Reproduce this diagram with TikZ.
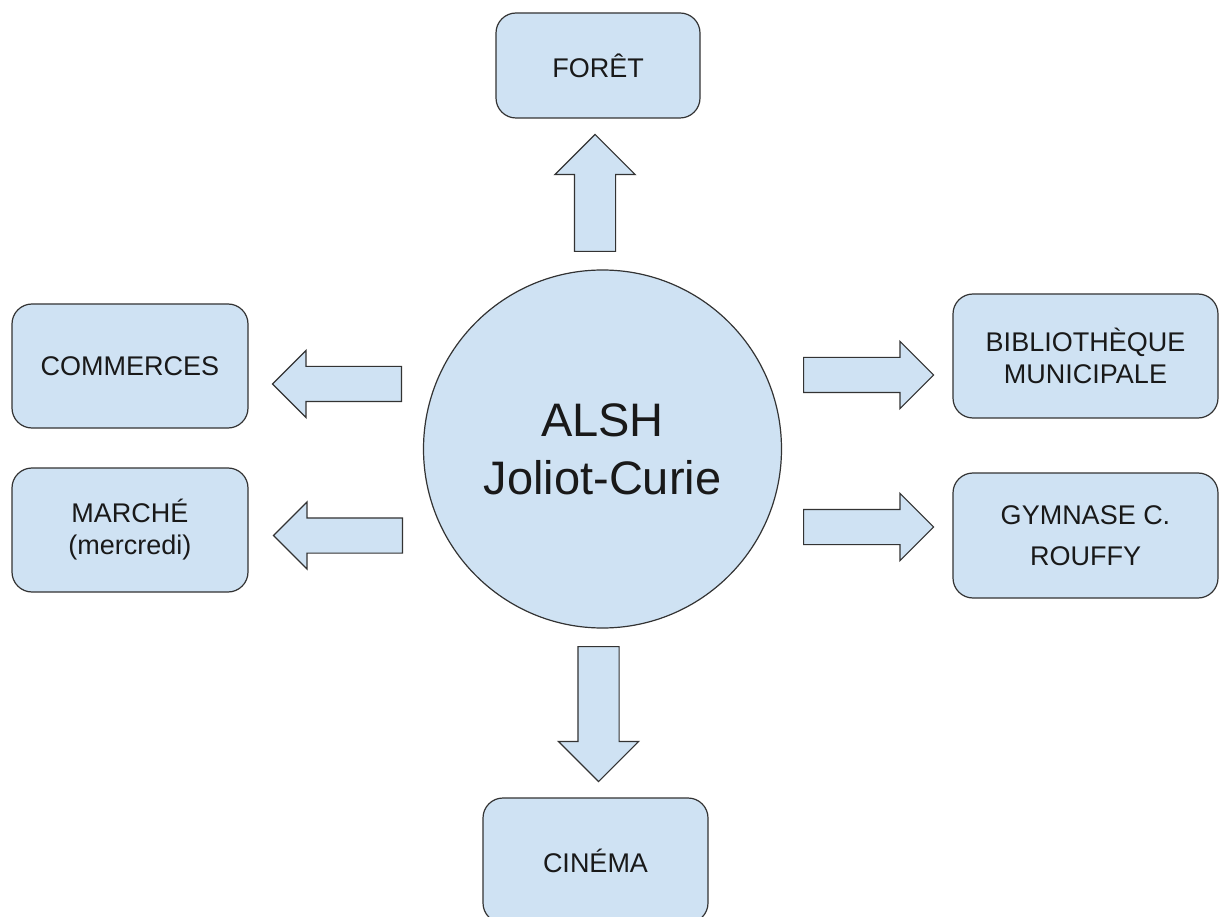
\documentclass[tikz,border=0pt]{standalone}
\usepackage{fontspec}
\setmainfont{Liberation Sans}
\usepackage{tikz}
\usetikzlibrary{shapes.arrows, positioning}
\definecolor{boxblue}{HTML}{CFE2F3}

\begin{document}
\begin{tikzpicture}[x=1pt, y=-1pt,
	lieu/.style={draw=black!80, line width=1.2pt, fill=boxblue, rounded corners=20pt, align=center, text=black!90, font=\fontsize{27}{32}\selectfont},
	fleche/.style={single arrow, draw=black!80, line width=1.2pt, fill=boxblue, inner xsep=0pt, inner ysep=17pt, anchor=tail, minimum width=66pt, single arrow head extend=16pt},
	flechev/.style={fleche, inner ysep=20pt, minimum width=79pt, single arrow head extend=19.5pt}]
		\path[use as bounding box, clip] (0,0) rectangle (1219,917);
		\draw (602.5,449) node[circle, draw=black!80, line width=1.2pt, fill=boxblue, minimum size=358pt, inner sep=0pt, align=center, text=black!90, font=\fontsize{47}{58}\selectfont] (alsh) {ALSH\\Joliot-Curie}
		(598,65.5) node[lieu, minimum width=204pt, minimum height=105pt] (foret) {FORÊT}
		(130,366) node[lieu, minimum width=236pt, minimum height=124pt] (commerces) {COMMERCES}
		(130,530) node[lieu, minimum width=236pt, minimum height=124pt] (marche) {MARCHÉ\\(mercredi)}
		(1085.5,356) node[lieu, minimum width=265pt, minimum height=124pt] (biblio) {BIBLIOTHÈQUE\\MUNICIPALE}
		(1085.5,535.5) node[lieu, minimum width=265pt, minimum height=125pt] (gymnase) {GYMNASE C.\\[9pt]ROUFFY}
		(595.5,860.5) node[lieu, minimum width=225pt, minimum height=125pt] (cinema) {CINÉMA};

		\node[flechev, rotate=90, minimum height=117pt] (fforet) at (595,252) {};
		\node[flechev, rotate=-90, minimum height=135pt] (fcinema) at (598.5,646) {};
		\node[fleche, rotate=180, minimum height=129pt] (fcommerces) at (402,384) {};
		\node[fleche, rotate=180, minimum height=129pt] (fmarche) at (403,535.5) {};
		\node[fleche, minimum height=130pt] (fbiblio) at (803,375) {};
		\node[fleche, minimum height=130pt] (fgymnase) at (803,527) {};
	\end{tikzpicture}
\end{document}
